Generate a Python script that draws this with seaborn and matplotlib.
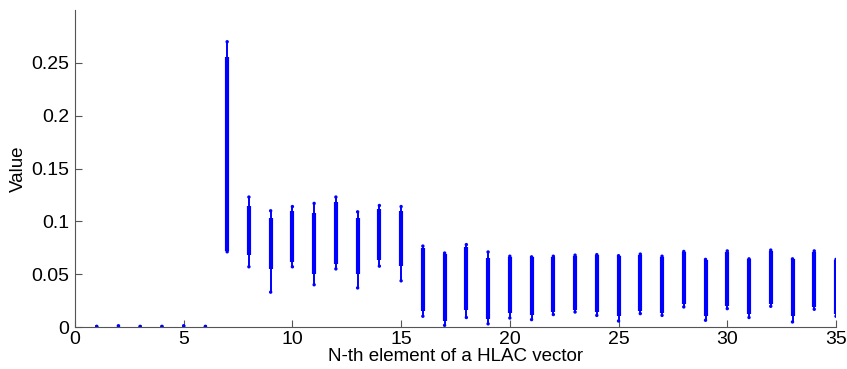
import matplotlib
matplotlib.use("Agg")
import matplotlib.pyplot as plt
import seaborn as sns
import pandas as pd
import numpy as np

# HLAC element index
elements = list(range(1, 36))
# maximum value per element
val_max = [0.0005, 0.001, 0.0005, 0.0005, 0.001, 0.0005,
           0.270, 0.123, 0.110, 0.114, 0.117, 0.123, 0.109, 0.115, 0.114,
           0.0766, 0.070, 0.078, 0.071, 0.067, 0.0664, 0.067, 0.068, 0.0685,
           0.0675, 0.069, 0.067, 0.0715, 0.064, 0.072, 0.0645, 0.0728, 0.0645,
           0.072, 0.064]
# upper end of the dense cluster
dense_hi = [0.0005, 0.001, 0.0005, 0.0005, 0.001, 0.0005,
            0.256, 0.115, 0.103, 0.110, 0.108, 0.118, 0.103, 0.112, 0.110,
            0.075, 0.069, 0.076, 0.065, 0.066, 0.066, 0.066, 0.067, 0.068,
            0.067, 0.068, 0.066, 0.071, 0.063, 0.071, 0.064, 0.072, 0.064,
            0.071, 0.063]
# lower end of the dense cluster
dense_lo = [0.0005, 0.001, 0.0005, 0.0005, 0.001, 0.0005,
            0.072, 0.068, 0.055, 0.062, 0.050, 0.060, 0.050, 0.063, 0.058,
            0.015, 0.006, 0.016, 0.008, 0.013, 0.011, 0.014, 0.016, 0.014,
            0.010, 0.015, 0.013, 0.022, 0.010, 0.020, 0.012, 0.022, 0.010,
            0.019, 0.012]
# minimum value per element
val_min = [0.0005, 0.001, 0.0005, 0.0005, 0.001, 0.0005,
           0.0712, 0.057, 0.033, 0.057, 0.040, 0.055, 0.037, 0.0576, 0.0437,
           0.0102, 0.0016, 0.009, 0.003, 0.0085, 0.007, 0.0118, 0.0142, 0.011,
           0.0057, 0.0127, 0.011, 0.019, 0.0064, 0.0174, 0.009, 0.0196, 0.0048,
           0.0168, 0.0102]

x_ticks = [0, 5, 10, 15, 20, 25, 30, 35]
y_ticks = [0, 0.05, 0.1, 0.15, 0.2, 0.25]
y_ticklabels = ["0", "0.05", "0.1", "0.15", "0.2", "0.25"]

sns.set_theme(style="white")
plt.rcParams['font.family'] = ['Liberation Sans', 'DejaVu Sans']

fig = plt.figure(figsize=(8.47, 3.69), dpi=100)
ax = fig.add_axes([0.0885, 0.1138, 0.8985, 0.859])

blue = "#0000ff"
ax.vlines(elements, val_min, val_max, color=blue, linewidth=1.4)
ax.vlines(elements, dense_lo, dense_hi, color=blue, linewidth=3.0)

pts = pd.DataFrame({"x": elements * 2, "y": val_min + val_max})
sns.scatterplot(data=pts, x="x", y="y", ax=ax, color=blue, s=6,
                edgecolor="none", marker="o")

ax.set_xlim(0, 35)
ax.set_ylim(0, 0.3)
ax.set_xticks(x_ticks)
ax.set_xticklabels([str(t) for t in x_ticks])
ax.set_yticks(y_ticks)
ax.set_yticklabels(y_ticklabels)
ax.tick_params(axis="both", direction="in", length=5, width=0.8,
               colors="#555555", labelcolor="black", labelsize=14,
               bottom=True, left=True)
ax.tick_params(axis="x", pad=3)
ax.tick_params(axis="y", pad=4)
ax.set_xlabel("N-th element of a HLAC vector", fontsize=13.5, labelpad=0,
              color="black")
ax.set_ylabel("Value", fontsize=13.5, labelpad=3, color="black")
for s in ["top", "right"]:
    ax.spines[s].set_visible(False)
for s in ["left", "bottom"]:
    ax.spines[s].set_color("#555555")
    ax.spines[s].set_linewidth(0.8)

fig.savefig("out.png", dpi=100)
